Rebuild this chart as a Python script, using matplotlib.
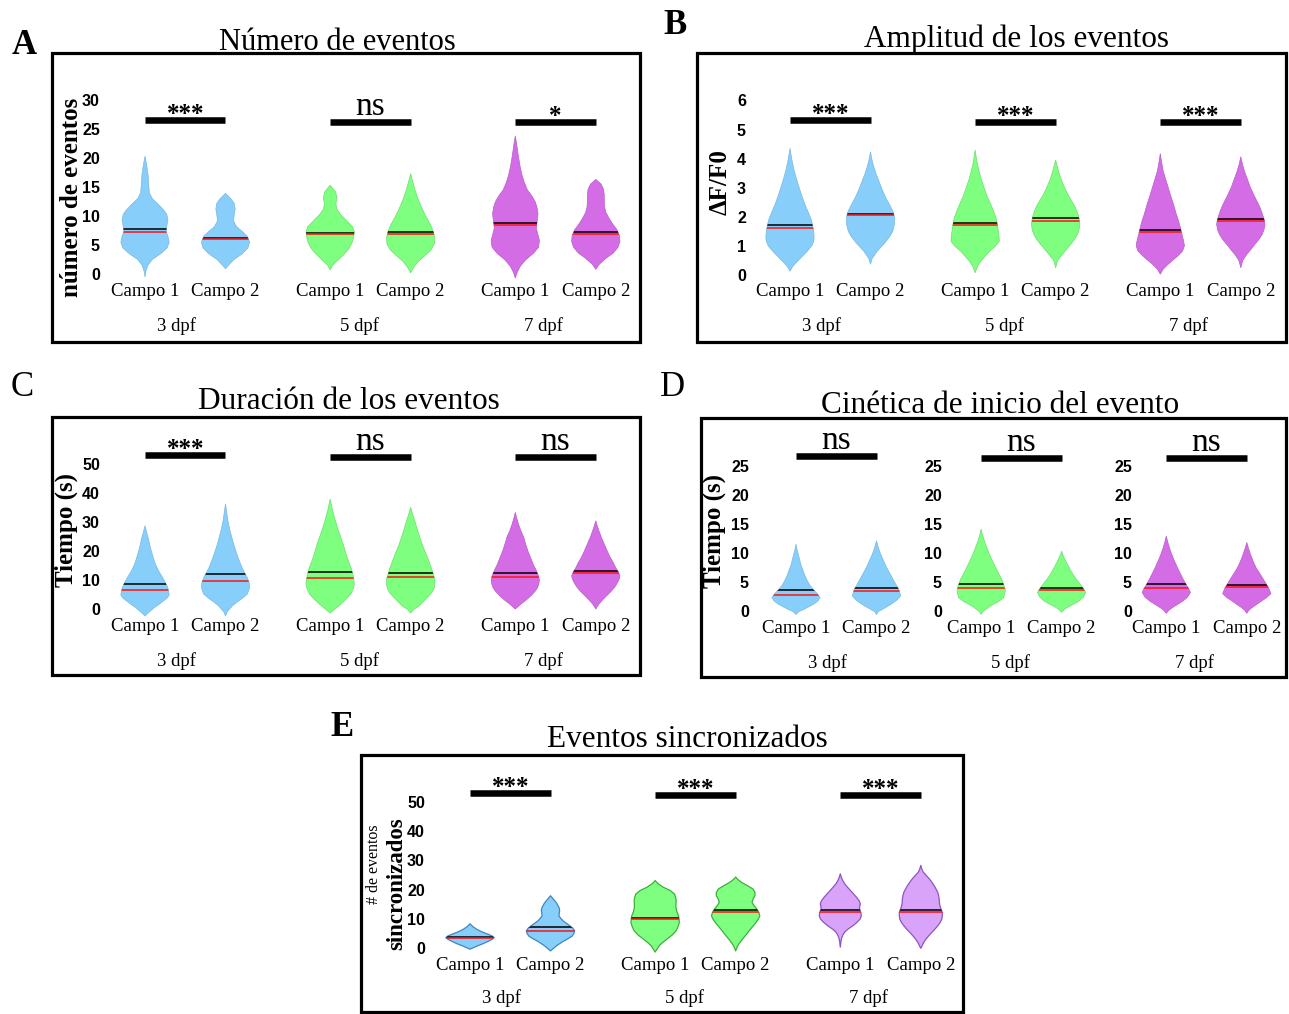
import matplotlib
matplotlib.use("Agg")
import matplotlib.pyplot as plt
from matplotlib.patches import Polygon, Rectangle
import numpy as np

# ----------------------------------------------------------------- data
POSITIONS = [1, 2, 3.3, 4.3, 5.6, 6.6]
CAMPO_LABELS = ["Campo 1", "Campo 2"] * 3
DPF_POS = [1.39, 3.67, 5.95]
DPF_LABELS = ["3 dpf", "5 dpf", "7 dpf"]

# Panel A: number of events  (value knots, relative half-width)
A_VALS = [
    [-0.5, 0.5, 1.5, 2.5, 3.5, 4.5, 5.5, 6.5, 7.3, 8.2, 9.3, 10.3, 11.0, 12.0, 13.0, 14.0, 15.5, 17.0, 18.5, 20.3],
    [0.9, 1.5, 2.5, 3.5, 4.5, 5.5, 6.5, 7.3, 8.2, 9.2, 10.2, 11.2, 12.2, 13.0, 13.9],
    [0.7, 1.5, 2.5, 3.5, 4.5, 5.5, 6.5, 7.3, 8.2, 9.2, 10.2, 11.2, 12.2, 13.2, 14.2, 15.3],
    [0.2, 1.2, 2.2, 3.2, 4.2, 5.2, 6.2, 7.2, 8.5, 10.0, 11.5, 13.0, 14.5, 16.0, 17.3],
    [-0.7, 0.3, 1.3, 2.4, 3.6, 4.6, 5.8, 6.9, 7.9, 8.9, 10.4, 11.5, 12.5, 13.5, 14.5, 15.7, 17.0, 18.5, 20.5, 22.3, 23.8],
    [0.8, 1.7, 2.7, 3.6, 4.6, 5.6, 6.6, 7.6, 8.6, 9.6, 10.6, 11.6, 12.6, 13.6, 14.6, 15.5, 16.3],
]
A_WIDS = [
    [0.0, 0.04, 0.12, 0.3, 0.65, 0.92, 1.0, 0.95, 0.88, 0.9, 0.95, 0.9, 0.78, 0.55, 0.3, 0.18, 0.15, 0.13, 0.08, 0.0],
    [0.0, 0.12, 0.35, 0.7, 0.93, 1.0, 0.9, 0.7, 0.45, 0.33, 0.36, 0.4, 0.36, 0.22, 0.0],
    [0.0, 0.1, 0.35, 0.6, 0.8, 0.92, 0.98, 1.0, 0.92, 0.68, 0.45, 0.27, 0.24, 0.28, 0.22, 0.0],
    [0.0, 0.13, 0.32, 0.6, 0.85, 0.98, 1.0, 0.95, 0.82, 0.62, 0.45, 0.3, 0.18, 0.08, 0.0],
    [0.0, 0.08, 0.2, 0.42, 0.76, 0.96, 1.0, 0.93, 0.87, 0.9, 0.94, 0.9, 0.82, 0.68, 0.5, 0.38, 0.28, 0.2, 0.12, 0.06, 0.0],
    [0.0, 0.15, 0.42, 0.72, 0.92, 1.0, 0.98, 0.88, 0.7, 0.55, 0.42, 0.36, 0.35, 0.35, 0.32, 0.22, 0.0],
]
A_MEAN = [7.7, 6.2, 7.0, 7.3, 8.85, 7.2]
A_MEDIAN = [7.25, 6.0, 6.85, 6.9, 8.5, 6.9]
A_TICKS = [0, 5, 10, 15, 20, 25, 30]
A_SIG = ["***", "ns", "*"]

# Panel B: amplitude (dF/F0)
B_VALS = [
    [0.13, 0.3, 0.48, 0.65, 0.82, 1.0, 1.15, 1.3, 1.5, 1.7, 1.9, 2.15, 2.42, 2.7, 3.0, 3.3, 3.6, 3.95, 4.35],
    [0.37, 0.55, 0.82, 1.0, 1.16, 1.35, 1.5, 1.7, 1.85, 2.0, 2.17, 2.4, 2.63, 2.9, 3.2, 3.5, 3.77, 4.0, 4.23],
    [0.08, 0.3, 0.48, 0.65, 0.82, 1.0, 1.16, 1.3, 1.5, 1.75, 1.97, 2.2, 2.42, 2.7, 3.0, 3.3, 3.57, 3.9, 4.29],
    [0.25, 0.5, 0.71, 0.88, 1.05, 1.22, 1.39, 1.55, 1.74, 1.95, 2.15, 2.35, 2.55, 2.78, 3.0, 3.3, 3.57, 3.95],
    [0.03, 0.2, 0.35, 0.48, 0.65, 0.82, 1.0, 1.15, 1.39, 1.6, 1.85, 2.1, 2.42, 2.7, 3.0, 3.3, 3.57, 3.9, 4.17],
    [0.25, 0.5, 0.71, 0.88, 1.05, 1.22, 1.39, 1.55, 1.74, 1.9, 2.08, 2.25, 2.42, 2.7, 3.0, 3.3, 3.57, 3.8, 4.06],
]
B_WIDS = [
    [0, 0.12, 0.32, 0.52, 0.72, 0.9, 0.98, 1.0, 0.98, 0.94, 0.88, 0.76, 0.62, 0.5, 0.38, 0.27, 0.17, 0.08, 0],
    [0, 0.06, 0.28, 0.48, 0.65, 0.82, 0.92, 0.98, 1.0, 0.99, 0.94, 0.8, 0.65, 0.5, 0.36, 0.22, 0.12, 0.05, 0],
    [0, 0.1, 0.24, 0.42, 0.6, 0.85, 1.0, 0.99, 0.96, 0.92, 0.86, 0.76, 0.65, 0.5, 0.37, 0.25, 0.16, 0.07, 0],
    [0, 0.08, 0.28, 0.45, 0.62, 0.78, 0.9, 0.97, 1.0, 0.97, 0.9, 0.8, 0.66, 0.5, 0.37, 0.22, 0.12, 0],
    [0, 0.12, 0.3, 0.48, 0.72, 0.92, 1.0, 0.97, 0.9, 0.84, 0.76, 0.66, 0.55, 0.44, 0.33, 0.22, 0.12, 0.05, 0],
    [0, 0.08, 0.25, 0.42, 0.58, 0.75, 0.88, 0.96, 1.0, 0.97, 0.9, 0.83, 0.74, 0.57, 0.4, 0.27, 0.15, 0.07, 0],
]
B_MEAN = [1.71, 2.1, 1.8, 1.96, 1.54, 1.93]
B_MEDIAN = [1.62, 2.05, 1.71, 1.87, 1.47, 1.87]
B_TICKS = [0, 1, 2, 3, 4, 5, 6]
B_SIG = ["***", "***", "***"]

# Panel C: duration (s)
C_VALS = [
    [-2.4, -1.2, 0.5, 1.7, 2.8, 3.8, 4.8, 6.0, 7.4, 9.0, 10.8, 13.0, 15.4, 17.7, 20.0, 22.3, 24.6, 26.6, 28.6],
    [-2.4, -1.0, 0.0, 1.2, 2.3, 3.7, 5.1, 6.5, 7.9, 9.3, 10.8, 12.5, 14.3, 16.6, 18.9, 21.7, 24.6, 27.5, 30.3, 33.2, 36.1],
    [-1.4, 0.0, 1.6, 3.3, 5.1, 6.8, 8.5, 10.2, 12.0, 14.3, 16.6, 19.4, 22.3, 25.1, 28.0, 30.9, 33.8, 35.8, 37.8],
    [-1.4, 0.0, 1.0, 2.6, 4.2, 5.6, 7.1, 8.6, 10.2, 12.2, 14.3, 16.6, 18.9, 21.7, 24.6, 27.5, 30.3, 32.6, 34.9],
    [0.0, 1.6, 3.3, 4.8, 6.2, 7.3, 8.5, 10.0, 11.4, 13.4, 15.4, 17.7, 20.0, 22.3, 24.6, 26.9, 29.2, 31.2, 33.2],
    [0.0, 1.6, 3.3, 4.8, 6.2, 7.7, 9.1, 10.3, 11.4, 12.8, 14.3, 16.0, 17.7, 20.0, 22.3, 24.6, 26.9, 28.6, 30.3],
]
C_WIDS = [
    [0, 0.15, 0.39, 0.6, 0.77, 0.92, 1.0, 0.98, 0.94, 0.85, 0.73, 0.57, 0.43, 0.34, 0.26, 0.19, 0.13, 0.06, 0],
    [0, 0.07, 0.17, 0.3, 0.47, 0.7, 0.9, 0.97, 1.0, 0.97, 0.9, 0.79, 0.68, 0.57, 0.47, 0.36, 0.26, 0.17, 0.1, 0.05, 0],
    [0, 0.2, 0.43, 0.65, 0.85, 0.95, 1.0, 0.98, 0.94, 0.86, 0.75, 0.64, 0.54, 0.42, 0.3, 0.2, 0.1, 0.05, 0],
    [0, 0.15, 0.34, 0.53, 0.72, 0.87, 0.97, 1.0, 1.0, 0.93, 0.85, 0.75, 0.64, 0.5, 0.38, 0.27, 0.17, 0.08, 0],
    [0, 0.22, 0.48, 0.68, 0.83, 0.92, 0.97, 1.0, 0.96, 0.86, 0.74, 0.63, 0.52, 0.43, 0.35, 0.23, 0.13, 0.06, 0],
    [0, 0.12, 0.3, 0.48, 0.65, 0.8, 0.9, 0.97, 1.0, 0.93, 0.82, 0.72, 0.6, 0.47, 0.35, 0.23, 0.13, 0.06, 0],
]
C_MEAN = [8.5, 12.0, 12.8, 12.5, 12.3, 13.1]
C_MEDIAN = [6.6, 9.7, 10.8, 11.0, 11.1, 12.4]
C_TICKS = [0, 10, 20, 30, 40, 50]
C_SIG = ["***", "ns", "ns"]

# Panel D: rise kinetics (s)
D_VALS = [
    [-0.6, -0.1, 0.3, 0.7, 1.15, 1.7, 2.3, 3.0, 3.7, 4.4, 5.2, 6.0, 6.9, 8.0, 9.2, 10.3, 11.5],
    [-0.6, -0.1, 0.3, 0.7, 1.15, 1.9, 2.6, 3.7, 4.6, 5.5, 6.5, 7.5, 8.6, 9.8, 11.0, 12.1],
    [-0.6, -0.1, 0.3, 0.7, 1.15, 1.7, 2.3, 3.0, 3.7, 4.6, 5.5, 6.5, 7.5, 8.6, 9.8, 11.0, 12.1, 13.1, 14.1],
    [-0.2, 0.3, 0.86, 1.3, 1.7, 2.4, 3.2, 3.9, 4.6, 5.4, 6.3, 7.4, 8.6, 9.5, 10.3],
    [-0.4, 0.1, 0.57, 1.1, 1.7, 2.4, 3.2, 3.9, 4.6, 5.4, 6.3, 7.4, 8.6, 9.7, 10.9, 11.9, 12.9],
    [-0.4, 0.1, 0.57, 1.1, 1.7, 2.3, 3.0, 4.0, 4.7, 5.5, 6.5, 7.5, 8.6, 9.8, 10.8, 11.8],
]
D_WIDS = [
    [0, 0.12, 0.34, 0.52, 0.72, 0.9, 1.0, 0.88, 0.72, 0.58, 0.47, 0.38, 0.3, 0.2, 0.13, 0.06, 0],
    [0, 0.08, 0.25, 0.42, 0.6, 0.85, 1.0, 0.93, 0.8, 0.68, 0.55, 0.42, 0.3, 0.17, 0.07, 0],
    [0, 0.07, 0.2, 0.33, 0.5, 0.75, 0.93, 0.98, 1.0, 0.93, 0.85, 0.72, 0.6, 0.47, 0.34, 0.23, 0.13, 0.06, 0],
    [0, 0.12, 0.34, 0.55, 0.72, 0.9, 1.0, 0.9, 0.77, 0.62, 0.47, 0.32, 0.17, 0.07, 0],
    [0, 0.1, 0.25, 0.45, 0.68, 0.88, 1.0, 0.92, 0.82, 0.71, 0.6, 0.47, 0.34, 0.23, 0.13, 0.06, 0],
    [0, 0.08, 0.21, 0.4, 0.6, 0.82, 1.0, 0.9, 0.8, 0.68, 0.53, 0.38, 0.26, 0.15, 0.07, 0],
]
D_MEAN = [3.6, 4.0, 4.6, 4.0, 4.6, 4.4]
D_MEDIAN = [2.7, 3.45, 4.0, 3.6, 3.9, 4.1]
D_TICKS = [0, 5, 10, 15, 20, 25]
D_SIG = ["ns", "ns", "ns"]

# Panel E: synchronized events
E_VALS = [
    [-0.4, 0.7, 1.5, 2.4, 3.0, 3.55, 4.1, 4.7, 5.5, 6.4, 7.3, 8.3],
    [-1.0, 0.7, 1.6, 2.4, 3.3, 4.1, 5.0, 5.9, 6.8, 7.6, 8.5, 9.3, 10.2, 11.0, 11.9, 12.8, 13.7, 14.5, 15.4, 16.2, 17.1, 17.9],
    [-1.4, 0.7, 1.8, 3.0, 4.4, 5.9, 7.3, 8.7, 9.9, 11.0, 12.4, 13.9, 15.0, 16.2, 17.3, 18.5, 19.7, 20.8, 22.0, 23.1],
    [-1.0, 0.7, 1.8, 3.0, 4.4, 5.9, 7.3, 8.7, 9.9, 11.0, 12.2, 13.3, 14.5, 15.6, 16.8, 17.9, 19.0, 20.2, 21.3, 22.5, 23.4, 24.3],
    [0.3, 2.4, 3.5, 4.7, 5.6, 6.4, 7.5, 8.7, 9.9, 11.0, 12.2, 13.3, 14.2, 15.1, 16.2, 17.3, 18.5, 19.7, 20.8, 22.0, 23.1, 24.3, 25.4],
    [-0.1, 0.7, 1.9, 3.0, 4.1, 5.3, 6.4, 7.6, 8.7, 9.9, 11.0, 12.2, 13.3, 14.5, 15.6, 16.8, 17.9, 19.1, 20.2, 21.4, 22.5, 23.7, 24.9, 26.0, 27.1, 28.3],
]
E_WIDS = [
    [0, 0.3, 0.55, 0.78, 0.92, 1.0, 0.92, 0.75, 0.5, 0.28, 0.12, 0],
    [0, 0.24, 0.4, 0.55, 0.75, 0.9, 0.97, 1.0, 0.92, 0.8, 0.65, 0.52, 0.42, 0.35, 0.36, 0.38, 0.36, 0.31, 0.25, 0.17, 0.08, 0],
    [0, 0.16, 0.3, 0.48, 0.7, 0.87, 0.95, 1.0, 0.99, 0.97, 0.9, 0.86, 0.86, 0.87, 0.85, 0.8, 0.62, 0.34, 0.12, 0],
    [0, 0.08, 0.17, 0.28, 0.42, 0.56, 0.7, 0.84, 0.94, 1.0, 0.96, 0.88, 0.76, 0.68, 0.72, 0.8, 0.8, 0.72, 0.5, 0.24, 0.1, 0],
    [0, 0.03, 0.06, 0.12, 0.2, 0.31, 0.5, 0.68, 0.82, 0.87, 0.85, 0.8, 0.8, 0.83, 0.78, 0.68, 0.55, 0.42, 0.3, 0.18, 0.1, 0.04, 0],
    [0, 0.05, 0.12, 0.21, 0.32, 0.45, 0.58, 0.7, 0.8, 0.87, 0.89, 0.89, 0.84, 0.79, 0.77, 0.76, 0.74, 0.7, 0.63, 0.55, 0.46, 0.35, 0.22, 0.1, 0.04, 0],
]
E_MEAN = [3.6, 7.2, 10.3, 13.0, 13.1, 13.0]
E_MEDIAN = [3.55, 5.9, 10.1, 12.2, 12.2, 12.4]
E_TICKS = [0, 10, 20, 30, 40, 50]
E_SIG = ["***", "***", "***"]

# ----------------------------------------------------------------- style
BLUE, GREEN, MAGENTA, LAVENDER = "#87CEFA", "#7FFF7F", "#D46CE6", "#D8A3F8"
FACE_ABCD = [BLUE, BLUE, GREEN, GREEN, MAGENTA, MAGENTA]
EDGE_ABCD = ["#78B8E0", "#78B8E0", "#6ADF6A", "#6ADF6A", "#B95CCB", "#B95CCB"]
FACE_E = [BLUE, BLUE, GREEN, GREEN, LAVENDER, LAVENDER]
EDGE_E = ["#3F86C6", "#3F86C6", "#3DAF3D", "#3DAF3D", "#8E55C2", "#8E55C2"]

SERIF = ["Liberation Serif", "DejaVu Serif"]
SANS_N = ["Liberation Sans Narrow", "Liberation Sans", "DejaVu Sans"]

W, H = 1289, 1014
SX = 80.5          # px per category unit
HW = 0.30          # max half-width of violins (category units)

fig = plt.figure(figsize=(W / 100, H / 100), dpi=100)
fig.patch.set_facecolor("white")


def fx(px):
    return px / W


def fy(py):
    return 1 - py / H


def box(l, t, r, b):
    fig.add_artist(Rectangle((fx(l), fy(b)), fx(r) - fx(l), fy(t) - fy(b),
                             transform=fig.transFigure, fill=False,
                             edgecolor="black", lw=2.3, zorder=10))


def data_axes(x1, y0, k, l, r, t, b, ticks):
    ax = fig.add_axes([fx(l), fy(b), fx(r) - fx(l), fy(t) - fy(b)])
    ax.set_xlim(1 + (l - x1) / SX, 1 + (r - x1) / SX)
    ax.set_ylim((y0 - b) / k, (y0 - t) / k)
    for s in ax.spines.values():
        s.set_visible(False)
    ax.patch.set_visible(False)
    ax.set_yticks(ticks)
    ax.set_yticklabels([str(v) for v in ticks], family=SANS_N,
                       fontweight="bold", fontsize=11.5)
    ax.tick_params(axis="y", length=0, pad=2.2)
    ax.tick_params(axis="x", which="both", length=0)
    return ax


def set_xlabels(ax, idx, gidx, dpf_pad):
    ax.set_xticks([POSITIONS[i] for i in idx])
    ax.set_xticklabels([CAMPO_LABELS[i] for i in idx], family=SERIF, fontsize=13.5)
    ax.set_xticks([DPF_POS[g] for g in gidx], minor=True)
    ax.set_xticklabels([DPF_LABELS[g] for g in gidx], minor=True, family=SERIF, fontsize=13.5)
    ax.tick_params(axis="x", which="major", pad=1.2)
    ax.tick_params(axis="x", which="minor", pad=dpf_pad)


def violin(ax, x, vals, wids, face, edge, elw, mean, median):
    v = np.asarray(vals, float)
    w = np.asarray(wids, float) * HW
    xy = np.concatenate([np.column_stack([x - w, v]),
                         np.column_stack([x + w[::-1], v[::-1]])])
    poly = Polygon(xy, closed=True, facecolor=face, edgecolor=edge, lw=elw,
                   joinstyle="round", zorder=2, clip_on=False)
    ax.add_patch(poly)
    for yv, c, a in [(mean, "black", 0.85), (median, "#FF1414", 0.85)]:
        ln, = ax.plot([x - HW * 1.1, x + HW * 1.1], [yv, yv], color=c, alpha=a,
                      lw=1.3, zorder=3, solid_capstyle="butt")
        ln.set_clip_path(poly)


def sig(ax, y0, k, g, text, bar_py):
    p1, p2 = POSITIONS[2 * g], POSITIONS[2 * g + 1]
    yb = (y0 - bar_py) / k
    ax.plot([p1, p2], [yb, yb], color="black", lw=4.7, solid_capstyle="butt",
            clip_on=False, zorder=4)
    if text == "ns":
        ax.annotate(text, xy=((p1 + p2) / 2, yb), xytext=(0, 5),
                    textcoords="offset points", ha="center", va="baseline",
                    family=SERIF, fontsize=24, annotation_clip=False)
    else:
        ax.annotate(text, xy=((p1 + p2) / 2, yb), xytext=(0, -0.5),
                    textcoords="offset points", ha="center", va="baseline",
                    family=SERIF, fontsize=18, fontweight="bold",
                    annotation_clip=False)


def ftext(px, py, s, size, weight="normal", rot=0, ha="center", va="center",
          rmode="default"):
    fig.text(fx(px), fy(py), s, fontsize=size, fontweight=weight, rotation=rot,
             ha=ha, va=va, family=SERIF, rotation_mode=rmode)


def full_panel(x1, y0, k, l, r, t, b, ticks, vals, wids, means, meds,
               faces, edges, elw, sigs, bar_pys, dpf_pad):
    ax = data_axes(x1, y0, k, l, r, t, b, ticks)
    set_xlabels(ax, range(6), range(3), dpf_pad)
    for i in range(6):
        violin(ax, POSITIONS[i], vals[i], wids[i], faces[i], edges[i], elw,
               means[i], meds[i])
    for g in range(3):
        sig(ax, y0, k, g, sigs[g], bar_pys[g])
    return ax


# ----------------------------------------------------------------- panel A
box(52, 53, 640, 342)
full_panel(145, 274, 5.8, 103, 636, 58, 281, A_TICKS, A_VALS, A_WIDS, A_MEAN,
           A_MEDIAN, FACE_ABCD, EDGE_ABCD, 0.5, A_SIG, [120, 122, 122], 26.0)
ftext(24, 46, "A", 25, "bold")
ftext(337, 50, "Número de eventos", 22, va="baseline")
ftext(71, 197, "número de eventos", 18, "bold", rot=90)

# ----------------------------------------------------------------- panel B
box(697, 53, 1286, 342)
full_panel(790, 275, 29.1, 749, 1282, 58, 281, B_TICKS, B_VALS, B_WIDS, B_MEAN,
           B_MEDIAN, FACE_ABCD, EDGE_ABCD, 0.5, B_SIG, [120, 122, 122], 26.0)
ftext(675, 25, "B", 25, "bold")
ftext(1017, 47, "Amplitud de los eventos", 22.5, va="baseline")
ftext(720, 182, "ΔF/F0", 18, "bold", rot=90)

# ----------------------------------------------------------------- panel C
box(52, 417, 640, 675)
full_panel(145, 609, 2.91, 103, 636, 420, 616, C_TICKS, C_VALS, C_WIDS, C_MEAN,
           C_MEDIAN, FACE_ABCD, EDGE_ABCD, 0.5, C_SIG, [455, 457, 457], 26.0)
ftext(22, 388, "C", 25)
ftext(349, 409, "Duración de los eventos", 22.5, va="baseline")
ftext(66, 530, "Tiempo (s)", 18, "bold", rot=90)

# ----------------------------------------------------------------- panel D
box(701, 418, 1286, 677)
D_X1, D_Y0, D_K = 796, 611, 5.8
d_bounds = [(752, 930), (945, 1115), (1135, 1282)]
d_bars = [456, 458, 458]
for g in range(3):
    l, r = d_bounds[g]
    ax = data_axes(D_X1, D_Y0, D_K, l, r, 421, 618, D_TICKS)
    set_xlabels(ax, [2 * g, 2 * g + 1], [g], 26.0)
    for i in (2 * g, 2 * g + 1):
        violin(ax, POSITIONS[i], D_VALS[i], D_WIDS[i], FACE_ABCD[i], EDGE_ABCD[i],
               0.5, D_MEAN[i], D_MEDIAN[i])
    sig(ax, D_Y0, D_K, g, D_SIG[g], d_bars[g])
ftext(673, 388, "D", 25)
ftext(1000, 413, "Cinética de inicio del evento", 22.5, va="baseline")
ftext(714, 531, "Tiempo (s)", 18, "bold", rot=90)

# ----------------------------------------------------------------- panel E
box(361, 755, 963, 1012)
full_panel(470, 948, 2.92, 428, 958, 758, 955, E_TICKS, E_VALS, E_WIDS, E_MEAN,
           E_MEDIAN, FACE_E, EDGE_E, 0.9, E_SIG, [793, 795, 795], 24.5)
ftext(342, 727, "E", 25, "bold")
ftext(687, 747, "Eventos sincronizados", 22.5, va="baseline")
ftext(378, 864, "# de eventos", 11.5, rot=90, va="baseline", rmode="anchor")
ftext(402, 884, "sincronizados", 16.5, "bold", rot=90, va="baseline", rmode="anchor")

fig.savefig("out.png", dpi=100, facecolor="white")
